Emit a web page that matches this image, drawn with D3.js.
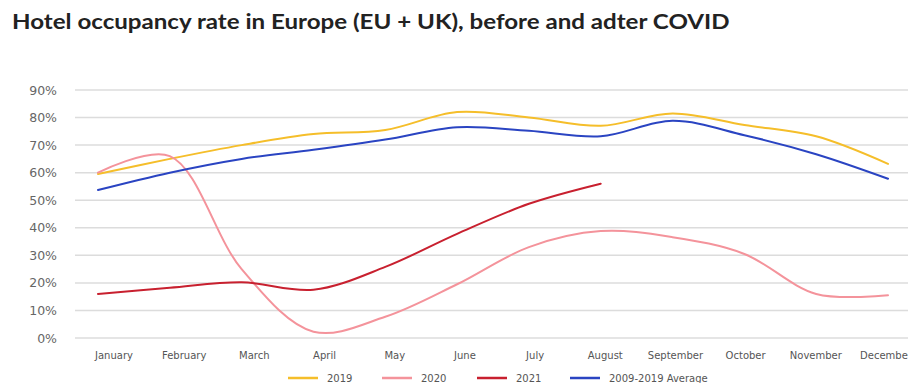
<!DOCTYPE html>
<html><head><meta charset="utf-8">
<script src="https://cdn.jsdelivr.net/npm/d3@7"></script>
<style>body{margin:0;background:#fff}svg{display:block}</style>
</head><body>
<svg id="c" width="908" height="383"></svg>
<script>
const months = ["January","February","March","April","May","June","July","August","September","October","November","December"];
const yTicks = [0,10,20,30,40,50,60,70,80,90];
const s2019 = [59.5,65,70,74,75.5,82,80,77,81.5,77.3,73.2,63.2];
const s2020 = [60,66,25,2.3,7.7,19.5,33,38.8,36.6,30.5,16,15.5];
const s2021 = [16,18.2,20.2,17.5,25.8,37.8,48.7,56];
const sAvg = [53.7,60,65,68.3,72,76.5,75.2,73.2,78.8,73.6,66.7,57.8];
const seriesNames = ["2019","2020","2021","2009-2019 Average"];
const seriesColors = ["#f5be2a","#f4939b","#c8202f","#2a44c2"];
const seriesData = [s2019,s2020,s2021,sAvg];

const svg = d3.select("#c");
const title = svg.append("text").attr("x",0).attr("y",0)
  .text("Hotel occupancy rate in Europe (EU + UK), before and adter COVID")
  .attr("font-family","Lato").attr("font-size",20).attr("font-weight",700).attr("fill","#222");
const tw = title.node().getComputedTextLength();
title.attr("transform",`translate(12,29) scale(${718/tw},1)`);

const y = d3.scaleLinear().domain([0,90]).range([338,90]);
const x = d3.scalePoint().domain(months).range([98,888]);
const xLab = d3.scalePoint().domain(months).range([114,886]);

const g = svg.append("g");
g.selectAll("line.grid").data(yTicks).join("line").attr("class","grid")
  .attr("x1",75).attr("x2",908).attr("y1",d=>y(d)).attr("y2",d=>y(d))
  .attr("stroke","#dcdcdc").attr("stroke-width",1.5);
g.selectAll("text.yt").data(yTicks).join("text").attr("class","yt")
  .attr("x",57).attr("y",d=>y(d)+4.5).attr("text-anchor","end").text(d=>d+"%")
  .attr("font-family","DejaVu Sans").attr("font-size",12.5).attr("fill","#666");
g.selectAll("text.xt").data(months).join("text").attr("class","xt")
  .attr("x",d=>xLab(d)).attr("y",359).attr("text-anchor","middle").text(d=>d)
  .attr("font-family","DejaVu Sans").attr("font-size",10).attr("fill","#555");

const line = d3.line().x((d,i)=>x(months[i])).y(d=>y(d)).curve(d3.curveCatmullRom);
seriesData.forEach((s,i)=>{
  svg.append("path").attr("d",line(s)).attr("fill","none")
    .attr("stroke",seriesColors[i]).attr("stroke-width",2).attr("stroke-linecap","round");
});

const legX = [288,382,477,570];
seriesNames.forEach((n,i)=>{
  svg.append("line").attr("x1",legX[i]).attr("x2",legX[i]+30).attr("y1",378).attr("y2",378)
    .attr("stroke",seriesColors[i]).attr("stroke-width",2.5);
  svg.append("text").attr("x",legX[i]+39).attr("y",382).text(n)
    .attr("font-family","DejaVu Sans").attr("font-size",10).attr("fill","#555");
});
</script>
</body></html>
